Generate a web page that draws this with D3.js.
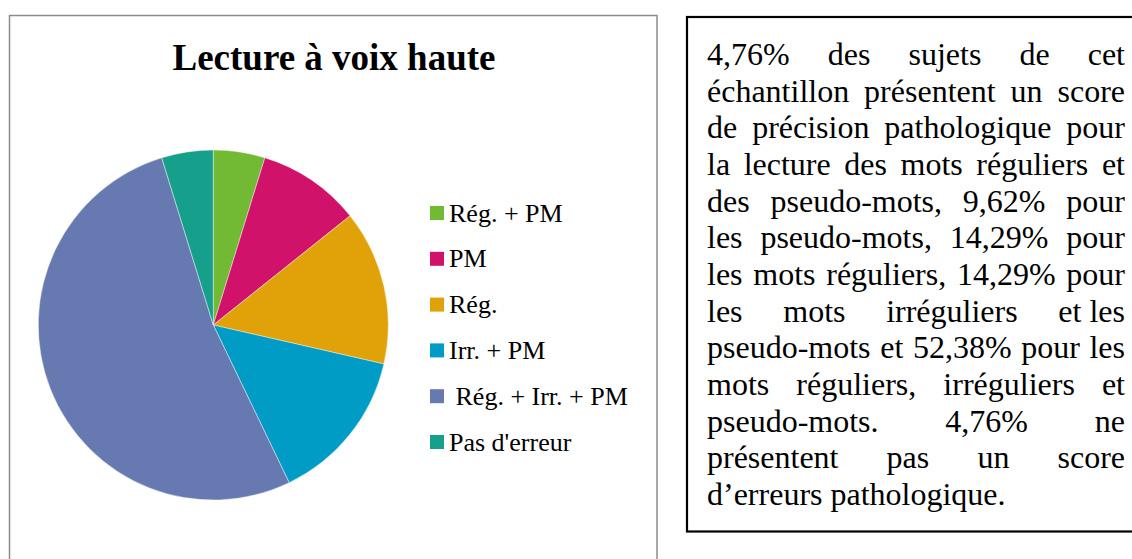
<!DOCTYPE html>
<html>
<head>
<meta charset="utf-8">
<script src="https://cdn.jsdelivr.net/npm/d3@7"></script>
<style>
  html, body { margin: 0; padding: 0; background: #fff; }
  svg { display: block; }
</style>
</head>
<body>
<svg id="chart" width="1132" height="559"></svg>
<script>
// ---- data ----
const title = "Lecture à voix haute";
const categories = ["Rég. + PM", "PM", "Rég.", "Irr. + PM", " Rég. + Irr. + PM", "Pas d'erreur"];
const values = [4.76, 9.52, 14.29, 14.29, 52.38, 4.76];
const colors = ["#72b934", "#d0126b", "#e0a208", "#009cc6", "#6679b0", "#16a08b"];
const textLines = [
  "4,76% des sujets de cet",
  "échantillon présentent un score",
  "de précision pathologique pour",
  "la lecture des mots réguliers et",
  "des pseudo-mots, 9,62% pour",
  "les pseudo-mots, 14,29% pour",
  "les mots réguliers, 14,29% pour",
  "les mots irréguliers et\u00a0les",
  "pseudo-mots et 52,38% pour les",
  "mots réguliers, irréguliers et",
  "pseudo-mots. 4,76% ne",
  "présentent pas un score",
  "d’erreurs pathologique."
];

const serif = "'Liberation Serif', 'Times New Roman', Times, serif";
const svg = d3.select("#chart");

// ---- left chart frame ----
svg.append("rect")
  .attr("x", 9.5).attr("y", 15.5)
  .attr("width", 647.5).attr("height", 580)
  .attr("fill", "#fff")
  .attr("stroke", "#8c8c8c").attr("stroke-width", 1.5);

// title
svg.append("text")
  .attr("x", 334).attr("y", 70)
  .attr("text-anchor", "middle")
  .style("font-family", serif)
  .style("font-weight", "bold")
  .style("font-size", "37px")
  .attr("fill", "#000")
  .text(title);

// ---- pie ----
const cx = 213.3, cy = 325, r = 175;
const pie = d3.pie().sort(null).value(d => d.v);
const arc = d3.arc().innerRadius(0).outerRadius(r);
const data = categories.map((c, i) => ({ c, v: values[i], col: colors[i] }));

svg.append("g")
  .attr("transform", `translate(${cx},${cy})`)
  .selectAll("path")
  .data(pie(data))
  .join("path")
  .attr("d", arc)
  .attr("fill", d => d.data.col)
  .attr("stroke", "#ffffff")
  .attr("stroke-width", 0.6)
  .attr("stroke-opacity", 0.7);

// ---- legend ----
const legY = d3.scalePoint().domain(d3.range(categories.length)).range([206, 435]);
const leg = svg.append("g");
const rows = leg.selectAll("g").data(data).join("g")
  .attr("transform", (d, i) => `translate(430,${legY(i)})`);
rows.append("rect")
  .attr("width", 14).attr("height", 14)
  .attr("fill", d => d.col);
rows.append("text")
  .attr("x", 19).attr("y", 15.5)
  .style("font-family", serif)
  .style("font-size", "26px")
  .style("white-space", "pre")
  .attr("fill", "#000")
  .text(d => d.c);

// ---- right text box ----
svg.append("rect")
  .attr("x", 687).attr("y", 17)
  .attr("width", 460).attr("height", 514.5)
  .attr("fill", "#fff")
  .attr("stroke", "#000").attr("stroke-width", 2.2);

const tx0 = 707, tx1 = 1125, ty0 = 65, lh = 36.67;
const tg = svg.append("g")
  .style("font-family", serif)
  .style("font-size", "32px")
  .attr("fill", "#000");

textLines.forEach((line, i) => {
  const y = ty0 + i * lh;
  const words = line.split(" ");
  const last = i === textLines.length - 1;
  const nodes = words.map(w => tg.append("text").attr("y", y).text(w));
  const widths = nodes.map(n => n.node().getComputedTextLength());
  const total = d3.sum(widths);
  let gap;
  if (last || words.length < 2) {
    const sp = tg.append("text").text("a a");
    const sp2 = tg.append("text").text("aa");
    gap = sp.node().getComputedTextLength() - sp2.node().getComputedTextLength();
    sp.remove(); sp2.remove();
  } else {
    gap = (tx1 - tx0 - total) / (words.length - 1);
  }
  let x = tx0;
  nodes.forEach((n, k) => {
    n.attr("x", x);
    x += widths[k] + gap;
  });
});
</script>
</body>
</html>
